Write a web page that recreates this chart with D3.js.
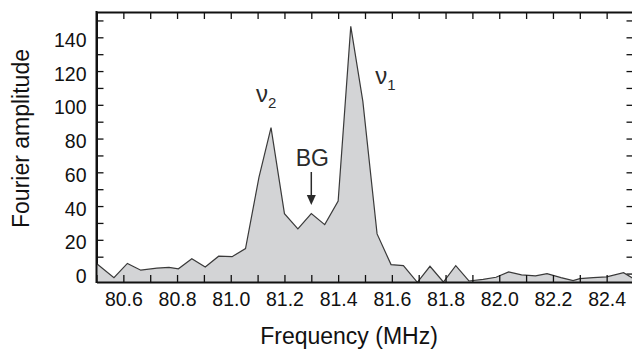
<!DOCTYPE html>
<html>
<head>
<meta charset="utf-8">
<script src="https://cdn.jsdelivr.net/npm/d3@7"></script>
<style>
  body { margin: 0; background: #fff; }
  svg { display: block; font-family: "Liberation Sans", Arial, sans-serif; }
</style>
</head>
<body>
<div id="container"></div>
<script>
/* CONSTANTS AND GLOBALS */
const width = 632,
  height = 355,
  margin = { top: 12, bottom: 73, left: 96.5, right: -1.5 };

// frequency (MHz) of each sample
const freq = [80.50, 80.565, 80.615, 80.665, 80.725, 80.77, 80.805, 80.855, 80.905, 80.955,
  81.005, 81.055, 81.105, 81.15, 81.20, 81.25, 81.30, 81.35, 81.40, 81.447,
  81.492, 81.545, 81.597, 81.643, 81.695, 81.742, 81.792, 81.838, 81.887, 81.94,
  81.988, 82.035, 82.083, 82.135, 82.178, 82.23, 82.275, 82.30, 82.35, 82.40,
  82.463, 82.50];

// Fourier amplitude at each sample
const amp = [6, -2.5, 6, 2, 3.2, 3.7, 2.8, 8.8, 3.9, 10.3,
  10, 14.8, 57, 86.5, 35.5, 26.5, 35.5, 29, 43, 146.5,
  102, 23.5, 5.3, 4.7, -5.2, 4.3, -5, 4.7, -4.4, -3.4,
  -2.2, 1, -0.8, -1.4, 0, -2.4, -4.2, -3, -2.4, -2,
  0.5, -3];

// tick values
const xTicks = d3.range(80.5, 82.51, 0.1).map(d => +d.toFixed(1));
const xLabels = [80.6, 80.8, 81.0, 81.2, 81.4, 81.6, 81.8, 82.0, 82.2, 82.4];
const yTicks = d3.range(0, 151, 10);
const yLabels = [0, 20, 40, 60, 80, 100, 120, 140];

// peak labels: [name, subscript, freq, amplitude]
const peaks = [["ν", "2", 81.094, 101.8], ["ν", "1", 81.538, 112.4]];
// background marker: label freq / amplitude, arrow top, arrow tip
const bg = { label: "BG", freq: 81.30, labelAmp: 63.9, from: 60.2, to: 40.6 };

const data = freq.map((f, i) => ({ f: f, a: amp[i] }));

// SCALES
const xScale = d3.scaleLinear()
  .domain([80.5, 82.5])
  .range([margin.left, width - margin.right]);

const yScale = d3.scaleLinear()
  .domain([-5, 155])
  .range([height - margin.bottom, margin.top]);

// CREATE SVG ELEMENT
const svg = d3.select("#container")
  .append("svg")
  .attr("width", width)
  .attr("height", height);

// y ticks go under the area
const yAxis = d3.axisLeft(yScale)
  .tickValues(yTicks)
  .tickSize(-7)
  .tickSizeOuter(0)
  .tickPadding(10)
  .tickFormat(d => yLabels.includes(d) ? d : "");

const yG = svg.append("g")
  .attr("transform", `translate(${margin.left},0)`)
  .call(yAxis);

const yRight = svg.append("g")
  .attr("transform", `translate(${width - margin.right},0)`)
  .call(d3.axisRight(yScale).tickValues(yTicks).tickSize(-7).tickSizeOuter(0).tickFormat(""));

// DRAW AREA
const drawArea = d3.area()
  .x(d => xScale(d.f))
  .y0(yScale(-5))
  .y1(d => yScale(d.a));

const drawLine = d3.line()
  .x(d => xScale(d.f))
  .y(d => yScale(d.a));

svg.append("path")
  .datum(data)
  .attr("fill", "#d3d4d6")
  .attr("d", drawArea);

svg.append("path")
  .datum(data)
  .attr("fill", "none")
  .attr("stroke", "#3a3a3a")
  .attr("stroke-width", 1.2)
  .attr("stroke-linejoin", "miter")
  .attr("d", drawLine);

// X AXES
const xAxis = d3.axisBottom(xScale)
  .tickValues(xTicks)
  .tickSize(-7)
  .tickSizeOuter(0)
  .tickPadding(10.5)
  .tickFormat(d => xLabels.includes(d) ? d.toFixed(1) : "");

const xG = svg.append("g")
  .attr("transform", `translate(0,${height - margin.bottom})`)
  .call(xAxis);

const xTop = svg.append("g")
  .attr("transform", `translate(0,${margin.top})`)
  .call(d3.axisTop(xScale).tickValues(xTicks).tickSize(-7).tickSizeOuter(0).tickFormat(""));

// redraw the left axis line on top of the fill
svg.append("line")
  .attr("x1", margin.left).attr("x2", margin.left)
  .attr("y1", margin.top - 1).attr("y2", height - margin.bottom + 1)
  .attr("stroke", "#111").attr("stroke-width", 2);

[xG, xTop, yG, yRight].forEach(g => {
  g.select(".domain").attr("stroke", "#111").attr("stroke-width", 2);
  g.selectAll(".tick line").attr("stroke", "#111").attr("stroke-width", 1.3);
  g.selectAll(".tick text")
    .attr("fill", "#111")
    .style("font-size", "19.5px")
    .style("font-family", "'Liberation Sans', Arial, sans-serif");
});
yG.selectAll(".tick text").attr("dy", "0.46em");

// AXIS TITLES
svg.append("text")
  .attr("x", 349)
  .attr("y", 344)
  .attr("text-anchor", "middle")
  .attr("fill", "#111")
  .style("font-size", "23px")
  .text("Frequency (MHz)");

svg.append("text")
  .attr("transform", "translate(28.5,138.5) rotate(-90)")
  .attr("text-anchor", "middle")
  .attr("fill", "#111")
  .style("font-size", "23px")
  .text("Fourier amplitude");

// PEAK LABELS
peaks.forEach(p => {
  const t = svg.append("text")
    .attr("x", xScale(p[2]))
    .attr("y", yScale(p[3]))
    .attr("fill", "#2a2a2a")
    .style("font-size", "24px");
  t.append("tspan").text(p[0]);
  t.append("tspan")
    .attr("dy", 6.5)
    .style("font-size", "15px")
    .text(p[1]);
});

// BG LABEL AND ARROW
svg.append("text")
  .attr("x", xScale(bg.freq) + 1)
  .attr("y", yScale(bg.labelAmp))
  .attr("text-anchor", "middle")
  .attr("fill", "#2a2a2a")
  .style("font-size", "23px")
  .text(bg.label);

svg.append("line")
  .attr("x1", xScale(bg.freq)).attr("x2", xScale(bg.freq))
  .attr("y1", yScale(bg.from)).attr("y2", yScale(bg.to) - 9)
  .attr("stroke", "#2a2a2a").attr("stroke-width", 1.5);

svg.append("path")
  .attr("d", d3.line()([
    [xScale(bg.freq) - 4.5, yScale(bg.to) - 10],
    [xScale(bg.freq) + 4.5, yScale(bg.to) - 10],
    [xScale(bg.freq), yScale(bg.to)]
  ]) + "Z")
  .attr("fill", "#2a2a2a");
</script>
</body>
</html>
